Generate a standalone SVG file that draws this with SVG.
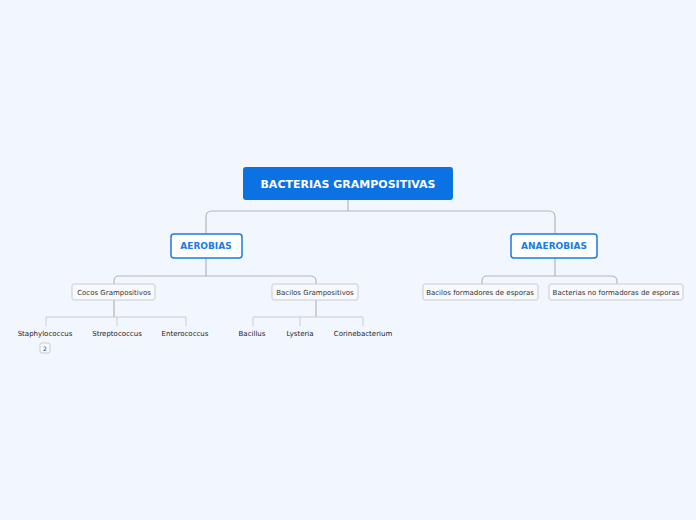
<svg xmlns="http://www.w3.org/2000/svg" width="696" height="520" viewBox="0 0 696 520">
<style>
text{font-family:"DejaVu Sans",Verdana,sans-serif;text-anchor:middle}
.c{fill:none;stroke:#b4b6bc;stroke-width:1.2}
.c2{fill:none;stroke:#c9cbd0;stroke-width:1}
.m{fill:#fff;stroke:#1a7be0;stroke-width:1.5}
.mt{font-size:9px;font-weight:bold;fill:#1a7be0}
.s{fill:#f8f9fc;stroke:#c8cbd1;stroke-width:1}
.st{font-size:7px;fill:#333}
.l{font-size:7px;fill:#222}
</style>
<rect width="696" height="520" fill="#f2f6fe"/>
<g id="connectors">
<path class="c" d="M348 200V211M206 233V217Q206 211 212 211H549Q555 211 555 217V233"/>
<path class="c" d="M206 258V276M114 284V281Q114 276 119 276H310Q316 276 316 281V284"/>
<path class="c" d="M555 258V276M482 284V281Q482 276 487 276H611Q617 276 617 281V284"/>
<path class="c" d="M114 300V317"/>
<path class="c2" d="M46 326V317H186V326M117 317V326"/>
<path class="c" d="M316 300V317"/>
<path class="c2" d="M253 326V317H363V326M300 317V326"/>
</g>
<g id="root"><rect x="243" y="167" width="210" height="33" rx="3" fill="#0a72e2"/><text x="348" y="188" font-size="11" font-weight="bold" fill="#fff">BACTERIAS GRAMPOSITIVAS</text></g>
<g id="aerobias"><rect class="m" x="171" y="234" width="71" height="24" rx="3"/><text class="mt" x="206" y="249">AEROBIAS</text></g>
<g id="anaerobias"><rect class="m" x="511" y="234" width="86" height="24" rx="3"/><text class="mt" x="554" y="249">ANAEROBIAS</text></g>
<g id="cocos"><rect class="s" x="72" y="284" width="83" height="16" rx="2"/><text class="st" x="114" y="295">Cocos Grampositivos</text></g>
<g id="bacilos"><rect class="s" x="272" y="284" width="86" height="16" rx="2"/><text class="st" x="315" y="295">Bacilos Grampositivos</text></g>
<g id="formadores"><rect class="s" x="423" y="284" width="115" height="16" rx="2"/><text class="st" x="480" y="295">Bacilos formadores de esporas</text></g>
<g id="noformadoras"><rect class="s" x="549" y="284" width="134" height="16" rx="2"/><text class="st" x="616" y="295">Bacterias no formadoras de esporas</text></g>
<g id="staphylococcus"><text class="l" x="45" y="336">Staphylococcus</text><rect class="s" x="40" y="343" width="10" height="10" rx="2"/><text x="45" y="351" font-size="6" fill="#333">2</text></g>
<g id="streptococcus"><text class="l" x="117" y="336">Streptococcus</text></g>
<g id="enterococcus"><text class="l" x="185" y="336">Enterococcus</text></g>
<g id="bacillus"><text class="l" x="252" y="336">Bacillus</text></g>
<g id="lysteria"><text class="l" x="300" y="336">Lysteria</text></g>
<g id="corinebacterium"><text class="l" x="363" y="336">Corinebacterium</text></g>
</svg>
